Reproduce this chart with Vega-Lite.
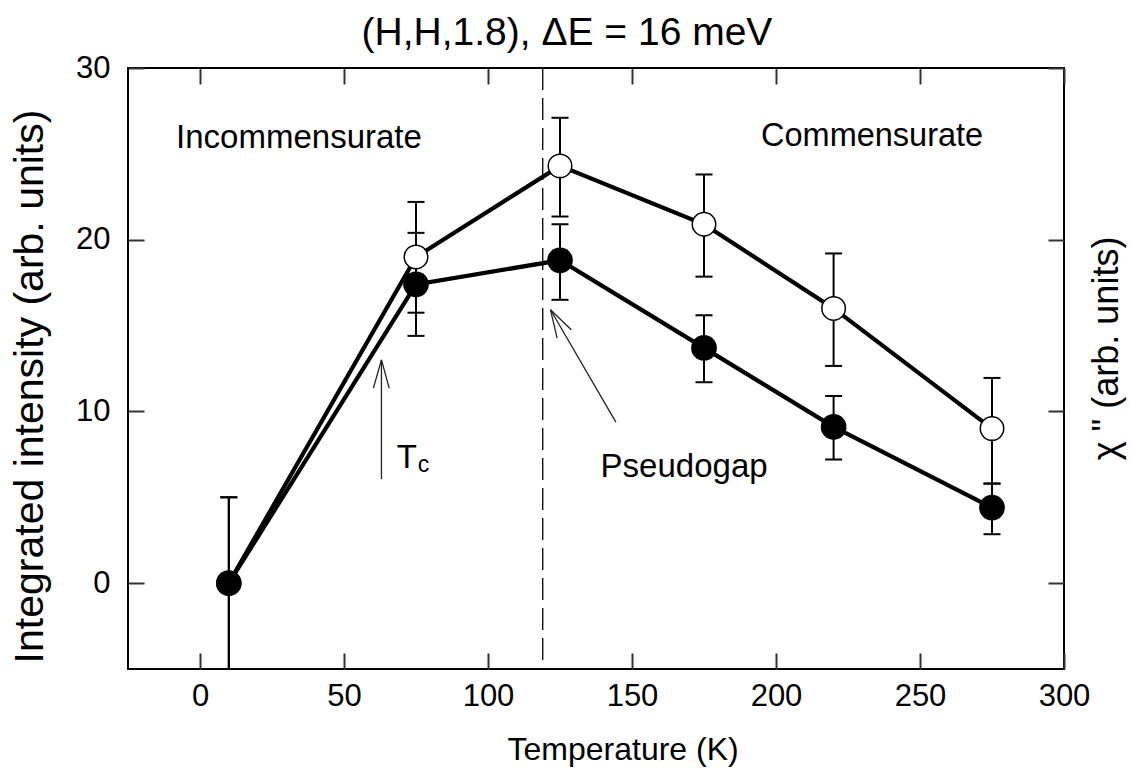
{
  "$schema": "https://vega.github.io/schema/vega-lite/v6.json",
  "autosize": {"type": "none"},
  "width": 936,
  "height": 601,
  "padding": {"left": 128, "top": 68, "right": 67, "bottom": 100},
  "background": "white",
  "title": {
    "text": "(H,H,1.8), ΔE = 16 meV",
    "fontSize": 39,
    "font": "Liberation Sans",
    "fontWeight": "normal",
    "color": "black",
    "anchor": "middle",
    "baseline": "alphabetic",
    "dx": -29,
    "dy": 57,
    "offset": 25
  },
  "config": {
    "font": "Liberation Sans",
    "view": {"stroke": "black", "strokeWidth": 2},
    "axis": {
      "domain": false,
      "grid": false,
      "tickColor": "#333",
      "tickWidth": 2,
      "tickSize": -16,
      "labelFlush": false,
      "labelOverlap": false,
      "labelFont": "Liberation Sans",
      "labelFontSize": 31,
      "labelColor": "black",
      "titleFont": "Liberation Sans",
      "titleFontWeight": "normal",
      "titleColor": "black"
    }
  },
  "data": {
    "values": [
      {"T": 10, "series": "filled", "y": 0, "lo": -5, "hi": 5},
      {"T": 75, "series": "filled", "y": 17.4, "lo": 14.4, "hi": 20.4},
      {"T": 125, "series": "filled", "y": 18.8, "lo": 16.5, "hi": 20.9},
      {"T": 175, "series": "filled", "y": 13.7, "lo": 11.7, "hi": 15.6},
      {"T": 220, "series": "filled", "y": 9.1, "lo": 7.2, "hi": 10.9},
      {"T": 275, "series": "filled", "y": 4.4, "lo": 2.85, "hi": 5.8},
      {"T": 10, "series": "open", "y": 0, "lo": -5, "hi": 5},
      {"T": 75, "series": "open", "y": 19.0, "lo": 15.75, "hi": 22.2},
      {"T": 125, "series": "open", "y": 24.3, "lo": 21.35, "hi": 27.1},
      {"T": 175, "series": "open", "y": 20.9, "lo": 17.85, "hi": 23.8},
      {"T": 220, "series": "open", "y": 16.0, "lo": 12.65, "hi": 19.2},
      {"T": 275, "series": "open", "y": 9.0, "lo": 5.8, "hi": 11.95}
    ]
  },
  "resolve": {"axis": {"x": "independent", "y": "independent"}},
  "layer": [
    {
      "data": {"values": [{}]},
      "mark": {"type": "rule", "strokeDash": [22, 8], "strokeWidth": 1.3, "color": "black"},
      "encoding": {
        "x": {"datum": 119, "type": "quantitative", "axis": null}
      }
    },
    {
      "data": {"values": [{}]},
      "mark": {"type": "rule", "strokeWidth": 1.3, "color": "#222"},
      "encoding": {
        "x": {"datum": 63, "type": "quantitative", "axis": null},
        "y": {"datum": 6.06, "type": "quantitative", "axis": null},
        "y2": {"datum": 13.0}
      }
    },
    {
      "data": {"values": [{}]},
      "mark": {"type": "rule", "strokeWidth": 1.3, "color": "#222"},
      "encoding": {
        "x": {"datum": 63, "type": "quantitative", "axis": null},
        "y": {"datum": 13.0, "type": "quantitative", "axis": null},
        "x2": {"datum": 60.2},
        "y2": {"datum": 11.36}
      }
    },
    {
      "data": {"values": [{}]},
      "mark": {"type": "rule", "strokeWidth": 1.3, "color": "#222"},
      "encoding": {
        "x": {"datum": 63, "type": "quantitative", "axis": null},
        "y": {"datum": 13.0, "type": "quantitative", "axis": null},
        "x2": {"datum": 65.7},
        "y2": {"datum": 11.36}
      }
    },
    {
      "data": {"values": [{}]},
      "mark": {"type": "rule", "strokeWidth": 1.3, "color": "#222"},
      "encoding": {
        "x": {"datum": 144.4, "type": "quantitative", "axis": null},
        "y": {"datum": 9.38, "type": "quantitative", "axis": null},
        "x2": {"datum": 121.7},
        "y2": {"datum": 15.92}
      }
    },
    {
      "data": {"values": [{}]},
      "mark": {"type": "rule", "strokeWidth": 1.3, "color": "#222"},
      "encoding": {
        "x": {"datum": 121.7, "type": "quantitative", "axis": null},
        "y": {"datum": 15.92, "type": "quantitative", "axis": null},
        "x2": {"datum": 124.0},
        "y2": {"datum": 14.27}
      }
    },
    {
      "data": {"values": [{}]},
      "mark": {"type": "rule", "strokeWidth": 1.3, "color": "#222"},
      "encoding": {
        "x": {"datum": 121.7, "type": "quantitative", "axis": null},
        "y": {"datum": 15.92, "type": "quantitative", "axis": null},
        "x2": {"datum": 128.9},
        "y2": {"datum": 14.76}
      }
    },
    {
      "mark": {"type": "rule", "strokeWidth": 2, "color": "black"},
      "encoding": {
        "x": {"field": "T", "type": "quantitative", "axis": null},
        "y": {"field": "lo", "type": "quantitative", "axis": null},
        "y2": {"field": "hi"}
      }
    },
    {
      "mark": {"type": "tick", "orient": "horizontal", "size": 17, "thickness": 2, "color": "black", "opacity": 1},
      "encoding": {
        "x": {"field": "T", "type": "quantitative", "axis": null},
        "y": {"field": "hi", "type": "quantitative", "axis": null}
      }
    },
    {
      "mark": {"type": "tick", "orient": "horizontal", "size": 17, "thickness": 2, "color": "black", "opacity": 1},
      "encoding": {
        "x": {"field": "T", "type": "quantitative", "axis": null},
        "y": {"field": "lo", "type": "quantitative", "axis": null}
      }
    },
    {
      "mark": {"type": "line", "strokeWidth": 4.2, "color": "black"},
      "encoding": {
        "x": {
          "field": "T", "type": "quantitative",
          "scale": {"domain": [-25, 300], "nice": false, "zero": false},
          "axis": {
            "orient": "bottom",
            "values": [0, 50, 100, 150, 200, 250, 300],
            "labelPadding": 28,
            "title": "Temperature (K)",
            "titleFontSize": 32,
            "titleAnchor": "start",
            "titleAlign": "left",
            "titleBaseline": "alphabetic",
            "titleX": 379,
            "titleY": 90
          }
        },
        "y": {
          "field": "y", "type": "quantitative",
          "scale": {"domain": [-5, 30], "nice": false, "zero": false},
          "axis": {
            "orient": "left",
            "values": [0, 10, 20, 30],
            "labelPadding": 34,
            "title": "Integrated intensity (arb. units)",
            "titleFontSize": 41,
            "titleAngle": -90,
            "titleAlign": "center",
            "titleBaseline": "alphabetic",
            "titleX": -86,
            "titleY": 318
          }
        },
        "detail": {"field": "series"}
      }
    },
    {
      "transform": [{"filter": "datum.series === 'open'"}],
      "mark": {"type": "point", "shape": "circle", "filled": true, "fill": "white", "stroke": "black", "strokeWidth": 1.5, "size": 552, "opacity": 1},
      "encoding": {
        "x": {"field": "T", "type": "quantitative", "axis": null},
        "y": {"field": "y", "type": "quantitative", "axis": null}
      }
    },
    {
      "transform": [{"filter": "datum.series === 'filled'"}],
      "mark": {"type": "point", "shape": "circle", "filled": true, "color": "black", "size": 660, "opacity": 1},
      "encoding": {
        "x": {
          "field": "T", "type": "quantitative",
          "axis": {
            "orient": "top",
            "values": [0, 50, 100, 150, 200, 250, 300],
            "labels": false,
            "title": null
          }
        },
        "y": {
          "field": "y", "type": "quantitative",
          "axis": {
            "orient": "right",
            "values": [0, 10, 20, 30],
            "labels": false,
            "title": "χ \" (arb. units)",
            "titleFontSize": 36,
            "titleAngle": -90,
            "titleAlign": "center",
            "titleBaseline": "alphabetic",
            "titleX": 53,
            "titleY": 280
          }
        }
      }
    },
    {
      "data": {"values": [{}]},
      "mark": {"type": "text", "text": "Incommensurate", "fontSize": 33, "align": "left", "baseline": "alphabetic", "fill": "black"},
      "encoding": {
        "x": {"datum": -8.3, "type": "quantitative", "axis": null},
        "y": {"datum": 25.37, "type": "quantitative", "axis": null}
      }
    },
    {
      "data": {"values": [{}]},
      "mark": {"type": "text", "text": "Commensurate", "fontSize": 32.5, "align": "left", "baseline": "alphabetic", "fill": "black"},
      "encoding": {
        "x": {"datum": 194.8, "type": "quantitative", "axis": null},
        "y": {"datum": 25.43, "type": "quantitative", "axis": null}
      }
    },
    {
      "data": {"values": [{}]},
      "mark": {"type": "text", "text": "Pseudogap", "fontSize": 33, "align": "left", "baseline": "alphabetic", "fill": "black"},
      "encoding": {
        "x": {"datum": 139.1, "type": "quantitative", "axis": null},
        "y": {"datum": 6.21, "type": "quantitative", "axis": null}
      }
    },
    {
      "data": {"values": [{}]},
      "mark": {"type": "text", "text": "T", "fontSize": 33, "align": "left", "baseline": "alphabetic", "fill": "black"},
      "encoding": {
        "x": {"datum": 68.3, "type": "quantitative", "axis": null},
        "y": {"datum": 6.70, "type": "quantitative", "axis": null}
      }
    },
    {
      "data": {"values": [{}]},
      "mark": {"type": "text", "text": "c", "fontSize": 23, "align": "left", "baseline": "alphabetic", "fill": "black"},
      "encoding": {
        "x": {"datum": 75.6, "type": "quantitative", "axis": null},
        "y": {"datum": 6.5, "type": "quantitative", "axis": null}
      }
    }
  ]
}
